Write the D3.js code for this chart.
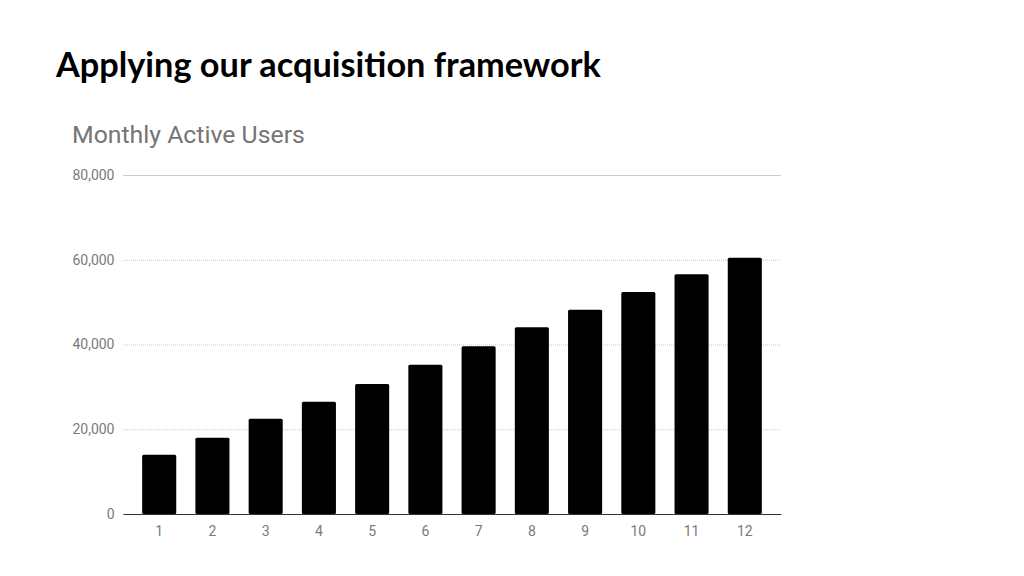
<!DOCTYPE html>
<html><head><meta charset="utf-8">
<script src="https://cdn.jsdelivr.net/npm/d3@7"></script>
<style>body{margin:0;background:#fff;} svg{display:block;}</style>
</head><body>
<svg id="c" width="1024" height="576"></svg>
<script>
const title = "Applying our acquisition framework";
const chartTitle = "Monthly Active Users";
const months = ["1","2","3","4","5","6","7","8","9","10","11","12"];
const users = [14000, 18000, 22500, 26500, 30700, 35200, 39600, 44100, 48200, 52400, 56600, 60500];
const yTicks = [0, 20000, 40000, 60000, 80000];

(function(){
const svg = d3.select("#c");
const pLeft = 123, pRight = 781, pTop = 175, pBottom = 514;

svg.append("text").attr("x", 56).attr("y", 77)
  .style("font-family", "Lato").style("font-weight", "bold").style("font-size", "34.3px")
  .attr("fill", "#000").text(title);
svg.append("text").attr("x", 72).attr("y", 143)
  .style("font-family", "Roboto").style("font-size", "24.8px")
  .attr("fill", "#757575").text(chartTitle);

const x = d3.scaleBand().domain(months).range([pLeft, pRight]).paddingInner(0.36).paddingOuter(0.36);
const y = d3.scaleLinear().domain([0, 80000]).range([pBottom, pTop]);

const grid = svg.append("g").attr("transform", `translate(${pLeft},0)`)
  .call(d3.axisLeft(y).tickValues(yTicks).tickSize(-(pRight - pLeft)).tickFormat(""));
grid.select(".domain").remove();
grid.selectAll(".tick line").attr("stroke", d => d === 80000 ? "#cccccc" : "#c8c8c8")
  .attr("stroke-width", 1)
  .attr("stroke-dasharray", d => d === 80000 ? null : "1,1");

const yl = svg.append("g").attr("transform", `translate(${pLeft},0)`)
  .call(d3.axisLeft(y).tickValues(yTicks).tickSize(0).tickPadding(8.5).tickFormat(d3.format(",")));
yl.select(".domain").remove();
yl.selectAll("text").style("font-family", "Roboto").style("font-size", "14px").attr("fill", "#7a7a7a");

svg.append("g").selectAll("rect").data(users).join("rect")
  .attr("x", (d, i) => x(months[i]))
  .attr("width", x.bandwidth())
  .attr("y", d => y(d))
  .attr("height", d => y(0) - y(d))
  .attr("rx", 1.5)
  .attr("fill", "#000");

const xa = svg.append("g").attr("transform", `translate(0,${pBottom})`)
  .call(d3.axisBottom(x).tickSize(0).tickPadding(12.5));
xa.select(".domain").attr("stroke", "#333").attr("stroke-width", 1.2);
xa.selectAll("text").style("font-family", "Roboto").style("font-size", "14px").attr("fill", "#7a7a7a");
})();
</script>
</body></html>
